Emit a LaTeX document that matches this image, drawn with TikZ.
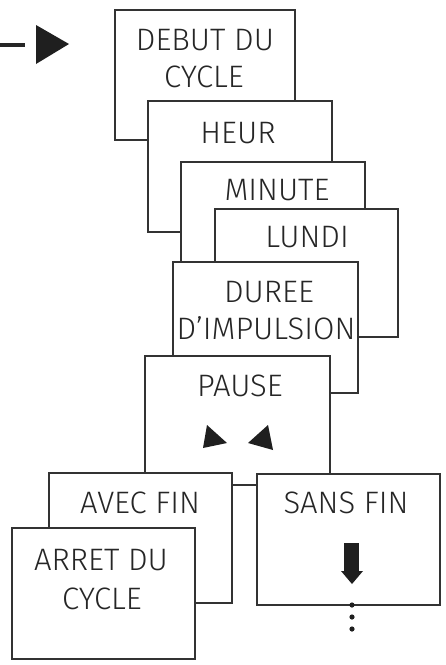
\documentclass[tikz,border=0pt]{standalone}
\usepackage{fontspec}
\setmainfont{Fira Sans}[UprightFont=* Light]
\begin{document}
\begin{tikzpicture}[x=1pt,y=-1pt,
  box/.style={draw=black!80, line width=1.8pt, fill=white, inner sep=0pt, outer sep=0pt, anchor=north west},
  lbl/.style={anchor=base, inner sep=0pt, text=black!85, font=\fontsize{31}{31}\selectfont},
  mark/.style={fill=black!88, draw=none}]
\useasboundingbox (0,0) rectangle (446,665);
% left arrow
\coordinate (a0) at (0,45);
\coordinate (a1) at (25,45);
\draw[line width=3.5pt, black!85] (a0) -- (a1);
\fill[black!88] (36,25) -- (69,44) -- (36,64) -- cycle;
% boxes
\node[box, minimum width=180pt, minimum height=130pt] (debut) at (115,10) {};
\node[lbl] (t1) at (205,50) {DEBUT DU};
\node[lbl] (t2) at (204,87) {CYCLE};
\node[box, minimum width=184pt, minimum height=131pt] (heur) at (148,101) {};
\node[lbl] (t3) at (238,143) {HEUR};
\node[box, minimum width=184pt, minimum height=131pt] (minute) at (181,162) {};
\node[lbl] (t4) at (277,200) {MINUTE};
\node[box, minimum width=183pt, minimum height=128pt] (lundi) at (215,209) {};
\node[lbl] (t5) at (307,247) {LUNDI};
\node[box, minimum width=185pt, minimum height=131pt] (duree) at (173,262) {};
\node[lbl] (t6) at (269,302) {DUREE};
\node[lbl] (t7) at (266,339) {D’IMPULSION};
\node[box, minimum width=185pt, minimum height=129pt] (pause) at (145,356) {};
\node[lbl] (t8) at (240,396) {PAUSE};
\fill[black!88] (207,425) -- (227,443) -- (203,448) -- cycle;
\fill[black!88] (268,425) -- (273,450) -- (248,443) -- cycle;
\node[box, minimum width=183pt, minimum height=130pt] (avec) at (49,473) {};
\node[lbl] (t9) at (140,513) {AVEC FIN};
\node[box, minimum width=183pt, minimum height=131pt] (sans) at (257,474) {};
\node[lbl] (t10) at (346,513) {SANS FIN};
\fill[black!88] (344,543) rectangle (359,572);
\fill[black!88] (341,571) -- (363,571) -- (352,584) -- cycle;
\fill[black!88] (352,605) circle (2.6pt);
\fill[black!88] (352,617) circle (2.6pt);
\fill[black!88] (352,629) circle (2.6pt);
\node[box, minimum width=183pt, minimum height=131pt] (arret) at (12,528) {};
\node[lbl] (t11) at (101,570) {ARRET DU};
\node[lbl] (t12) at (102,609) {CYCLE};
\end{tikzpicture}
\end{document}
